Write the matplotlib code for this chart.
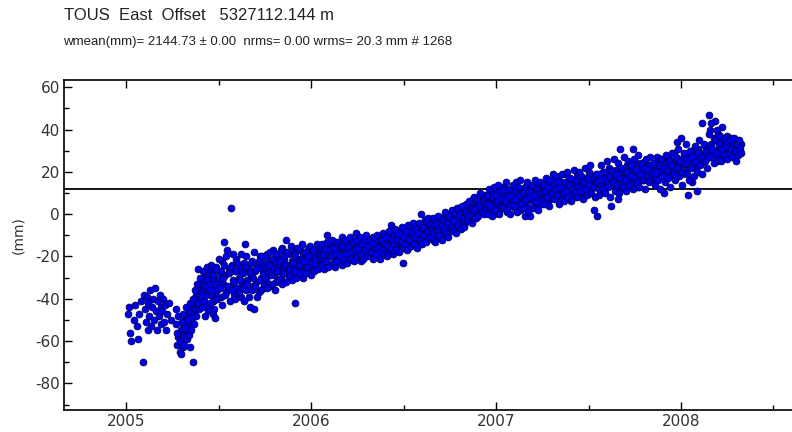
import matplotlib
matplotlib.use('Agg')
import matplotlib.pyplot as plt
import numpy as np
from matplotlib.ticker import MultipleLocator, FuncFormatter

TITLE = 'TOUS  East  Offset   5327112.144 m'
STATS = 'wmean(mm)= 2144.73 \u00b1 0.00  nrms= 0.00 wrms= 20.3 mm # 1268'
YLABEL = '(mm)'
WMEAN_LINE_mm = 12.1

# decimal year / east residual (mm)
t_a = [2005.010, 2005.018, 2005.022, 2005.028, 2005.040, 2005.050, 2005.058, 2005.065, 2005.072, 2005.080,
       2005.090, 2005.095, 2005.100, 2005.106, 2005.112, 2005.116, 2005.120, 2005.126, 2005.131, 2005.136,
       2005.141, 2005.146, 2005.151, 2005.156, 2005.160, 2005.166, 2005.171, 2005.176, 2005.181, 2005.186,
       2005.190, 2005.196, 2005.201, 2005.206, 2005.211, 2005.216, 2005.222, 2005.231, 2005.240]
e_a = [-47, -44, -56, -60, -50, -43, -53, -59, -47, -41,
       -70, -38, -45, -51, -39, -55, -42, -48, -36, -53,
       -44, -40, -50, -35, -46, -55, -41, -48, -38, -52,
       -44, -46, -40, -51, -43, -55, -47, -42, -50]

t_b = [2005.270, 2005.275, 2005.280, 2005.290, 2005.295, 2005.300, 2005.305, 2005.310, 2005.315, 2005.320,
       2005.325, 2005.330, 2005.335, 2005.340, 2005.345, 2005.350, 2005.355, 2005.360, 2005.365, 2005.370,
       2005.375, 2005.380, 2005.385, 2005.390, 2005.395, 2005.400, 2005.405, 2005.410, 2005.415, 2005.420,
       2005.425, 2005.430, 2005.435, 2005.440, 2005.445, 2005.450, 2005.470, 2005.480]
e_b = [-45, -62, -58, -65, -55, -60, -52, -63, -57, -50,
       -55, -48, -53, -46, -63, -50, -44, -70, -47, -41,
       -45, -38, -43, -26, -36, -40, -33, -37, -30, -35,
       -48, -31, -28, -34, -46, -29, -47, -49]
e_b_2nd = [-52, -56, -48, -60, -66, -51, -58, -47, -62, -54,
           -44, -59, -50, -57, -42, -55, -49, -40, -52, -45,
           -36, -48, -33, -42, -45, -30, -39, -44, -27, -41,
           -34, -38, -25, -43, -31, -36, -41, -38]

t_c = [2005.452, 2005.458, 2005.464, 2005.470, 2005.476, 2005.482, 2005.488, 2005.494, 2005.500, 2005.506,
       2005.512, 2005.518, 2005.524, 2005.530, 2005.536, 2005.542, 2005.548, 2005.554, 2005.560, 2005.566,
       2005.572, 2005.578, 2005.584, 2005.590, 2005.596, 2005.602, 2005.608, 2005.614, 2005.620, 2005.626,
       2005.632, 2005.638, 2005.644, 2005.650, 2005.656, 2005.662, 2005.668, 2005.674, 2005.680, 2005.686,
       2005.692, 2005.698, 2005.704, 2005.710, 2005.716, 2005.722, 2005.728, 2005.734, 2005.740, 2005.746]
e_c = [-33, -38, -27, -41, -30, -35, -25, -36, -31, -28,
       -39, -22, -33, -13, -29, -37, -17, -26, -34, 3,
       -24, -31, -38, -27, -21, -35, -30, -25, -39, -33,
       -28, -23, -14, -36, -31, -26, -44, -29, -22, -34,
       -45, -27, -32, -24, -37, -20, -30, -26, -35, -23]
e_c_2nd = [-42, -24, -36, -29, -45, -26, -33, -40, -21, -35,
           -27, -43, -30, -24, -38, -20, -34, -28, -41, -25,
           -36, -19, -32, -40, -27, -23, -37, -31, -19, -28,
           -35, -41, -25, -20, -33, -39, -28, -23, -36, -30,
           -18, -34, -26, -39, -22, -31, -36, -20, -28, -33]

t_c2 = [2005.752, 2005.758, 2005.764, 2005.770, 2005.776, 2005.782, 2005.788, 2005.794, 2005.800, 2005.806,
        2005.812, 2005.818, 2005.824, 2005.830, 2005.836, 2005.842, 2005.848, 2005.854, 2005.860, 2005.866,
        2005.872, 2005.878, 2005.884, 2005.890, 2005.896, 2005.902, 2005.908, 2005.914, 2005.920, 2005.926,
        2005.932, 2005.938, 2005.944, 2005.950, 2005.956, 2005.962, 2005.968, 2005.974, 2005.980, 2005.986,
        2005.992, 2005.998, 2006.004, 2006.010, 2006.016, 2006.022, 2006.028, 2006.034, 2006.040, 2006.046]
e_c2 = [-25, -31, -19, -28, -22, -34, -26, -17, -29, -23,
        -32, -20, -27, -24, -30, -16, -25, -21, -28, -12,
        -24, -30, -19, -26, -22, -30, -18, -42, -25, -21,
        -28, -17, -23, -27, -19, -27, -24, -20, -26, -16,
        -22, -25, -18, -23, -20, -26, -17, -22, -19, -24]
e_c2_2nd = [-30, -20, -35, -24, -18, -29, -33, -21, -26, -36,
            -19, -27, -31, -22, -17, -33, -28, -20, -24, -32,
            -18, -26, -29, -15, -31, -23, -27, -19, -30, -16,
            -24, -28, -21, -14, -30, -22, -18, -28, -25, -20,
            -15, -29, -23, -17, -27, -21, -24, -14, -26, -20]

t_d1 = [2006.052, 2006.058, 2006.064, 2006.070, 2006.076, 2006.082, 2006.088, 2006.094, 2006.100, 2006.106,
        2006.112, 2006.118, 2006.124, 2006.130, 2006.136, 2006.142, 2006.148, 2006.154, 2006.160, 2006.166,
        2006.172, 2006.178, 2006.184, 2006.190, 2006.196, 2006.202, 2006.208, 2006.214, 2006.220, 2006.226,
        2006.232, 2006.238, 2006.244, 2006.250, 2006.256, 2006.262, 2006.268, 2006.274, 2006.280, 2006.286,
        2006.292, 2006.298, 2006.304, 2006.310, 2006.316, 2006.322, 2006.328, 2006.334, 2006.340, 2006.346]
e_d1 = [-20, -16, -23, -18, -14, -21, -10, -19, -17, -24,
        -15, -20, -18, -13, -22, -17, -19, -15, -21, -11,
        -18, -16, -23, -14, -19, -17, -20, -13, -16, -21,
        -18, -15, -9, -19, -14, -17, -22, -16, -13, -18,
        -15, -20, -12, -17, -14, -19, -16, -11, -18, -15]
e_d1_2nd = [-24, -14, -19, -26, -16, -22, -13, -25, -17, -20,
            -12, -23, -16, -25, -19, -13, -22, -20, -14, -24,
            -15, -21, -12, -19, -23, -15, -11, -21, -18, -13,
            -22, -17, -12, -20, -16, -11, -19, -14, -21, -12,
            -17, -10, -20, -15, -12, -18, -13, -21, -11, -16]

t_d2 = [2006.352, 2006.358, 2006.364, 2006.370, 2006.376, 2006.382, 2006.388, 2006.394, 2006.400, 2006.406,
        2006.412, 2006.418, 2006.424, 2006.430, 2006.436, 2006.442, 2006.448, 2006.454, 2006.460, 2006.466,
        2006.472, 2006.478, 2006.484, 2006.490, 2006.496, 2006.502, 2006.508, 2006.514, 2006.520, 2006.526,
        2006.532, 2006.538, 2006.544, 2006.550, 2006.556, 2006.562, 2006.568, 2006.574, 2006.580, 2006.586,
        2006.592, 2006.598, 2006.604, 2006.610, 2006.616, 2006.622, 2006.628, 2006.634, 2006.640, 2006.646]
e_d2 = [-14, -18, -12, -16, -19, -13, -15, -10, -17, -13,
        -18, -11, -15, -5, -12, -14, -10, -17, -13, -8,
        -15, -11, -14, -9, -23, -12, -7, -13, -10, -16,
        -8, -11, -14, -6, -12, -9, -15, -7, -10, -13,
        0, -8, -11, -5, -9, -12, -6, -10, -4, -8]
e_d2_2nd = [-19, -10, -16, -21, -12, -17, -9, -19, -14, -11,
            -20, -15, -8, -16, -12, -19, -14, -7, -17, -12,
            -9, -18, -13, -6, -16, -11, -14, -8, -17, -5,
            -12, -15, -9, -4, -14, -11, -7, -16, -9, -4,
            -12, -14, -6, -10, -3, -13, -8, -2, -11, -7]

t_e1 = [2006.652, 2006.658, 2006.664, 2006.670, 2006.676, 2006.682, 2006.688, 2006.694, 2006.700, 2006.706,
        2006.712, 2006.718, 2006.724, 2006.730, 2006.736, 2006.742, 2006.748, 2006.754, 2006.760, 2006.766,
        2006.772, 2006.778, 2006.784, 2006.790, 2006.796, 2006.802, 2006.808, 2006.814, 2006.820, 2006.826,
        2006.832, 2006.838, 2006.844, 2006.850, 2006.856, 2006.862, 2006.868, 2006.874, 2006.880, 2006.886,
        2006.892, 2006.898, 2006.904, 2006.910, 2006.916, 2006.922, 2006.928, 2006.934, 2006.940, 2006.946]
e_e1 = [-8, -12, -5, -10, -3, -7, -11, -6, -2, -9,
        -4, -8, -1, -6, -10, -3, -5, 0, -7, -2,
        -4, 2, -6, -1, -3, 3, -5, 1, -2, 4,
        -4, 0, 2, -3, 5, -1, 3, 7, 0, 4,
        -2, 6, 2, 8, 1, 5, 3, 9, 4, 6]
e_e1_2nd = [-11, -2, -9, -13, -4, -8, -1, -10, -5, -12,
            -3, -7, 1, -9, -4, -11, -1, -6, 2, -8,
            -3, 0, -9, 3, -5, -1, -7, 4, -2, -6,
            1, 5, -3, -1, 6, 0, -4, 2, 8, -2,
            3, 7, -1, 4, 10, 1, 6, 0, 8, 3]

t_e2 = [2006.952, 2006.958, 2006.964, 2006.970, 2006.976, 2006.982, 2006.988, 2006.994, 2007.000, 2007.006,
        2007.012, 2007.018, 2007.024, 2007.030, 2007.036, 2007.042, 2007.048, 2007.054, 2007.060, 2007.066,
        2007.072, 2007.078, 2007.084, 2007.090, 2007.096, 2007.102, 2007.108, 2007.114, 2007.120, 2007.126,
        2007.132, 2007.138, 2007.144, 2007.150, 2007.156, 2007.162, 2007.168, 2007.174, 2007.180, 2007.186,
        2007.192, 2007.198, 2007.204, 2007.210, 2007.216, 2007.222, 2007.228, 2007.234, 2007.240, 2007.246]
e_e2 = [5, 2, 8, 3, 10, 6, 0, 7, 4, 11,
        5, 2, 9, 6, 13, 3, 8, 5, 1, 10,
        7, 4, 12, 6, 9, 3, 15, 7, 5, 10,
        2, 8, 11, 6, -1, 9, 4, 12, 7, -1,
        10, 6, 13, 8, 4, 11, 7, 14, 9, 5]
e_e2_2nd = [9, 0, 12, 4, -1, 8, 13, 2, 9, 6,
            14, 0, 7, 11, 3, 12, 6, 15, 2, 8,
            12, 0, 9, 14, 4, 11, 7, 1, 13, 9,
            16, 5, 10, 3, 13, 7, 15, 1, 11, 8,
            14, 3, 9, 16, 6, 12, 2, 10, 15, 7]

t_f1 = [2007.252, 2007.258, 2007.264, 2007.270, 2007.276, 2007.282, 2007.288, 2007.294, 2007.300, 2007.306,
        2007.312, 2007.318, 2007.324, 2007.330, 2007.336, 2007.342, 2007.348, 2007.354, 2007.360, 2007.366,
        2007.372, 2007.378, 2007.384, 2007.390, 2007.396, 2007.402, 2007.408, 2007.414, 2007.420, 2007.426,
        2007.432, 2007.438, 2007.444, 2007.450, 2007.456, 2007.462, 2007.468, 2007.474, 2007.480, 2007.486,
        2007.492, 2007.498, 2007.504, 2007.510, 2007.516, 2007.522, 2007.528, 2007.534, 2007.540, 2007.546]
e_f1 = [10, 7, 13, 9, 15, 6, 11, 8, 14, 10,
        17, 12, 8, 13, 10, 16, 11, 7, 14, 12,
        19, 9, 13, 11, 16, 10, 14, 12, 8, 15,
        11, 18, 13, 9, 16, 12, 14, 10, 17, 13,
        11, 15, 20, 12, 16, 14, 2, 13, 17, -1]
e_f1_2nd = [14, 5, 11, 17, 8, 13, 4, 16, 10, 19,
            7, 12, 18, 9, 15, 5, 13, 19, 10, 6,
            15, 11, 20, 8, 14, 17, 6, 12, 21, 10,
            16, 8, 13, 20, 11, 18, 7, 15, 22, 12,
            9, 17, 14, 23, 10, 18, 13, 8, 19, 15]

t_f2 = [2007.552, 2007.558, 2007.564, 2007.570, 2007.576, 2007.582, 2007.588, 2007.594, 2007.600, 2007.606,
        2007.612, 2007.618, 2007.624, 2007.630, 2007.636, 2007.642, 2007.648, 2007.654, 2007.660, 2007.666,
        2007.672, 2007.678, 2007.684, 2007.690, 2007.696, 2007.702, 2007.708, 2007.714, 2007.720, 2007.726,
        2007.732, 2007.738, 2007.744, 2007.750, 2007.756, 2007.762, 2007.768, 2007.774, 2007.780, 2007.786,
        2007.792, 2007.798, 2007.804, 2007.810, 2007.816, 2007.822, 2007.828, 2007.834, 2007.840, 2007.846]
e_f2 = [15, 12, 18, 14, 20, 11, 16, 13, 19, 15,
        22, 17, 4, 14, 18, 16, 21, 13, 7, 17,
        31, 19, 15, 12, 20, 17, 23, 16, 14, 21,
        18, 31, 15, 19, 24, 17, 13, 20, 18, 22,
        16, 19, 25, 17, 21, 18, 23, 20, 16, 22]
e_f2_2nd = [19, 9, 16, 23, 12, 20, 10, 17, 25, 13,
            18, 8, 21, 15, 26, 11, 19, 14, 24, 10,
            17, 22, 13, 27, 16, 11, 20, 25, 14, 18,
            23, 12, 26, 17, 21, 15, 28, 13, 19, 24,
            16, 22, 12, 26, 18, 21, 15, 27, 19, 23]

t_g1 = [2007.852, 2007.858, 2007.864, 2007.870, 2007.876, 2007.882, 2007.888, 2007.894, 2007.900, 2007.906,
        2007.912, 2007.918, 2007.924, 2007.930, 2007.936, 2007.942, 2007.948, 2007.954, 2007.960, 2007.966,
        2007.972, 2007.978, 2007.984, 2007.990, 2007.996, 2008.002, 2008.008, 2008.014, 2008.020, 2008.026,
        2008.032, 2008.038, 2008.044, 2008.050, 2008.056, 2008.062, 2008.068, 2008.074, 2008.080, 2008.086,
        2008.092, 2008.098, 2008.104, 2008.110, 2008.116, 2008.122, 2008.128, 2008.134, 2008.140, 2008.146]
e_g1 = [19, 23, 17, 21, 25, 18, 22, 20, 26, 10,
        21, 24, 19, 27, 22, 18, 25, 21, 29, 23,
        20, 34, 26, 22, 24, 36, 19, 28, 23, 26,
        21, 9, 27, 25, 30, 15, 24, 28, 22, 11,
        31, 26, 29, 24, 43, 28, 32, 26, 30, 27]
e_g1_2nd = [24, 14, 20, 27, 16, 23, 12, 26, 18, 22,
            15, 28, 21, 17, 25, 13, 23, 29, 19, 16,
            27, 22, 31, 18, 25, 20, 14, 29, 24, 33,
            19, 26, 16, 30, 22, 27, 18, 32, 25, 20,
            29, 35, 23, 27, 19, 33, 25, 30, 22, 28]

t_g2 = [2008.152, 2008.158, 2008.164, 2008.170, 2008.176, 2008.182, 2008.188, 2008.194, 2008.200, 2008.206,
        2008.212, 2008.218, 2008.224, 2008.230, 2008.236, 2008.242, 2008.248, 2008.254, 2008.260, 2008.266,
        2008.272, 2008.278, 2008.284, 2008.290, 2008.296, 2008.302, 2008.308, 2008.314, 2008.320, 2008.326]
e_g2 = [47, 40, 33, 28, 36, 44, 30, 25, 38, 32,
        29, 35, 41, 27, 33, 30, 37, 31, 28, 34,
        36, 30, 33, 29, 35, 32, 31, 34, 30, 33]
e_g2_2nd = [38, 27, 43, 31, 24, 35, 29, 40, 26, 33,
            37, 25, 31, 28, 36, 32, 26, 34, 29, 35,
            31, 27, 36, 30, 25, 33, 28, 35, 31, 29]

SEGMENTS = [(t_a, e_a), (t_b, e_b), (t_b, e_b_2nd),
            (t_c, e_c), (t_c, e_c_2nd), (t_c2, e_c2), (t_c2, e_c2_2nd),
            (t_d1, e_d1), (t_d1, e_d1_2nd), (t_d2, e_d2), (t_d2, e_d2_2nd),
            (t_e1, e_e1), (t_e1, e_e1_2nd), (t_e2, e_e2), (t_e2, e_e2_2nd),
            (t_f1, e_f1), (t_f1, e_f1_2nd), (t_f2, e_f2), (t_f2, e_f2_2nd),
            (t_g1, e_g1), (t_g1, e_g1_2nd), (t_g2, e_g2), (t_g2, e_g2_2nd)]


def plot_east_offset(out_path):
    t = np.concatenate([np.asarray(s[0], float) for s in SEGMENTS])
    e = np.concatenate([np.asarray(s[1], float) for s in SEGMENTS])

    fig = plt.figure(figsize=(7.92, 4.32), dpi=100)
    # the plot box runs off the right edge of the image, as in the original
    ax = fig.add_axes([0.0808, 0.0509, 0.967, 0.7639])

    ax.axhline(WMEAN_LINE_mm, color='black', lw=1.3, zorder=1)
    ax.plot(t, e, 'o', ms=5, mfc='#0000e6', mec='#00004d', mew=0.5, zorder=2)

    ax.set_xlim(2004.664, 2008.805)
    ax.set_ylim(-92.6, 63.4)
    ax.xaxis.set_major_locator(MultipleLocator(1))
    ax.xaxis.set_minor_locator(MultipleLocator(0.5))
    ax.yaxis.set_major_locator(MultipleLocator(20))
    ax.yaxis.set_minor_locator(MultipleLocator(10))
    ax.xaxis.set_major_formatter(FuncFormatter(lambda v, p: f'{int(round(v))}'))
    ax.yaxis.set_major_formatter(FuncFormatter(lambda v, p: f'{int(round(v))}'))

    ax.tick_params(which='both', direction='in', top=True, right=False,
                   labelsize=11, labelcolor='#333333', width=1)
    ax.tick_params(which='major', length=6, pad=3)
    ax.tick_params(which='minor', length=3.5)
    ax.spines['right'].set_visible(False)
    for side in ('left', 'top', 'bottom'):
        ax.spines[side].set_linewidth(1.2)

    fig.text(0.0808, 0.965, TITLE, fontsize=12, family='Liberation Sans',
             color='#222222', va='center', ha='left')
    fig.text(0.0795, 0.903, STATS, fontsize=9.5, family='Liberation Sans',
             color='#222222', va='center', ha='left')
    fig.text(0.023, 0.456, YLABEL, fontsize=10, color='#333333', rotation=90, va='center', ha='center')

    fig.savefig(out_path, dpi=100)


if __name__ == '__main__':
    plot_east_offset('out.png')
